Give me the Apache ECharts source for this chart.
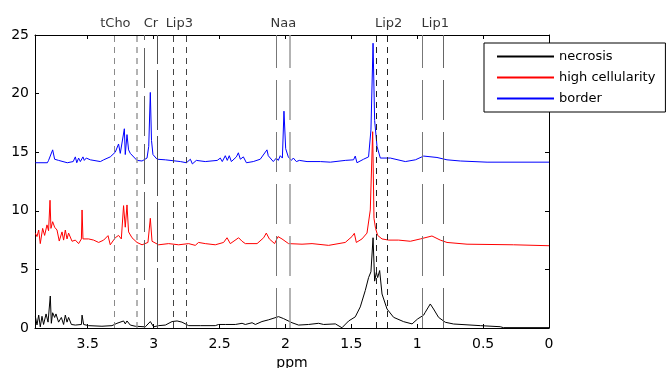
<!DOCTYPE html>
<html><head><meta charset="utf-8">
<script src="https://cdn.jsdelivr.net/npm/echarts/dist/echarts.min.js"></script>
<style>html,body{margin:0;padding:0;background:#fff}#c{width:667px;height:368px}</style>
</head><body><div id="c"></div>
<script>
// ---- data (ppm, intensity) ----
const necrosis = [
[3.897,0.97],[3.885,0.26],[3.872,1.1],[3.860,0.1],[3.847,1.0],[3.835,0.3],[3.816,1.2],[3.801,0.5],[3.784,2.73],[3.776,0.4],[3.766,1.3],[3.751,0.9],[3.741,1.2],[3.721,0.5],[3.700,0.9],[3.683,0.3],[3.670,1.1],[3.657,0.5],[3.645,0.9],[3.624,0.3],[3.594,0.25],[3.548,0.3],[3.543,1.1],[3.531,0.3],[3.493,0.2],[3.392,0.15],[3.316,0.2],[3.278,0.4],[3.228,0.6],[3.215,0.35],[3.202,0.6],[3.177,0.25],[3.139,0.15],[3.063,0.1],[3.025,0.55],[3.000,0.1],[2.962,0.2],[2.911,0.25],[2.860,0.55],[2.822,0.6],[2.785,0.5],[2.734,0.2],[2.646,0.2],[2.532,0.2],[2.507,0.3],[2.456,0.3],[2.380,0.3],[2.329,0.4],[2.304,0.3],[2.253,0.45],[2.228,0.3],[2.178,0.55],[2.127,0.7],[2.052,0.97],[2.014,0.8],[1.950,0.45],[1.900,0.25],[1.824,0.3],[1.748,0.4],[1.710,0.3],[1.621,0.35],[1.571,0.02],[1.520,0.6],[1.470,0.95],[1.432,1.8],[1.394,3.2],[1.369,4.3],[1.351,4.8],[1.335,7.7],[1.323,4.0],[1.310,4.75],[1.300,4.3],[1.285,4.9],[1.267,2.9],[1.229,1.62],[1.179,0.91],[1.103,0.54],[1.039,0.35],[0.997,0.77],[0.951,1.1],[0.939,1.34],[0.901,2.05],[0.876,1.62],[0.838,0.91],[0.787,0.49],[0.724,0.34],[0.521,0.2],[0.370,0.11],[0.346,0.03],[0,0.03]
];
const highCellularity = [
[3.897,8.08],[3.885,7.8],[3.872,8.36],[3.860,7.2],[3.842,8.5],[3.827,7.9],[3.809,8.8],[3.797,8.3],[3.786,10.9],[3.779,8.5],[3.766,9.07],[3.751,8.6],[3.733,8.36],[3.716,7.42],[3.695,8.2],[3.683,7.5],[3.670,8.36],[3.657,7.6],[3.645,8.1],[3.619,7.4],[3.594,7.5],[3.569,7.2],[3.548,7.6],[3.543,10.07],[3.536,7.6],[3.493,7.6],[3.455,7.5],[3.417,7.3],[3.379,7.5],[3.346,7.88],[3.329,7.1],[3.291,7.7],[3.266,7.9],[3.245,7.6],[3.228,10.44],[3.215,8.6],[3.202,10.5],[3.190,8.2],[3.164,7.7],[3.126,7.3],[3.088,7.1],[3.043,7.3],[3.025,9.36],[3.012,7.4],[2.962,7.1],[2.886,7.2],[2.810,7.1],[2.734,7.2],[2.684,7.05],[2.659,7.3],[2.608,7.2],[2.532,7.1],[2.469,7.3],[2.443,7.7],[2.418,7.2],[2.355,7.7],[2.329,7.4],[2.304,7.2],[2.215,7.2],[2.165,7.7],[2.145,8.1],[2.122,7.6],[2.082,7.2],[2.056,7.8],[2.026,7.6],[1.976,7.2],[1.874,7.15],[1.798,7.2],[1.672,7.05],[1.546,7.3],[1.495,7.8],[1.477,8.08],[1.462,7.3],[1.419,7.6],[1.381,8.1],[1.356,10.07],[1.338,16.75],[1.328,9.36],[1.316,8.5],[1.300,7.9],[1.267,7.6],[1.217,7.5],[1.141,7.5],[1.052,7.4],[0.976,7.6],[0.888,7.85],[0.825,7.5],[0.774,7.3],[0.622,7.15],[0.269,7.1],[0.256,7.02],[0,7.02]
];
const border = [
[3.897,14.1],[3.806,14.1],[3.797,14.3],[3.766,15.2],[3.751,14.4],[3.721,14.3],[3.655,14.1],[3.610,14.2],[3.594,14.6],[3.583,14.1],[3.569,14.5],[3.556,14.2],[3.536,14.6],[3.526,14.3],[3.511,14.5],[3.480,14.35],[3.404,14.2],[3.379,14.35],[3.329,14.6],[3.291,15.0],[3.266,15.7],[3.253,14.9],[3.241,14.8],[3.222,17.0],[3.215,14.8],[3.202,16.5],[3.190,15.2],[3.177,14.9],[3.126,14.3],[3.088,14.25],[3.050,14.5],[3.037,15.5],[3.025,20.1],[3.016,16.0],[3.005,14.8],[2.974,14.4],[2.911,14.35],[2.797,14.2],[2.751,14.1],[2.721,14.4],[2.706,14.0],[2.676,14.3],[2.608,14.2],[2.517,14.3],[2.494,14.5],[2.479,14.2],[2.456,14.7],[2.441,14.3],[2.426,14.7],[2.410,14.2],[2.372,14.6],[2.357,14.95],[2.342,14.4],[2.319,14.6],[2.296,14.1],[2.244,14.2],[2.191,14.4],[2.140,15.2],[2.130,14.7],[2.115,14.8],[2.092,14.2],[2.069,14.5],[2.054,14.3],[2.039,14.7],[2.023,14.5],[2.011,18.5],[1.998,15.3],[1.978,14.6],[1.955,14.3],[1.940,14.5],[1.917,14.2],[1.894,14.3],[1.836,14.2],[1.735,14.2],[1.659,14.15],[1.546,14.3],[1.483,14.35],[1.470,14.67],[1.457,14.1],[1.407,14.4],[1.369,14.6],[1.351,16.9],[1.335,24.3],[1.323,17.7],[1.305,15.5],[1.280,14.5],[1.204,14.5],[1.090,14.2],[1.014,14.35],[0.951,14.67],[0.850,14.55],[0.774,14.35],[0.673,14.25],[0.470,14.15],[0,14.15]
];
const markerPpm = [3.298, 3.126, 3.068, 2.970, 2.848, 2.750, 2.067, 1.968, 1.311, 1.225, 0.959, 0.804];
const labelNames = ['tCho', 'Cr', 'Lip3', 'Naa', 'Lip2', 'Lip1'];
const labelPpm = [3.29, 3.02, 2.805, 2.016, 1.217, 0.863];
const seriesNames = ['necrosis', 'high cellularity', 'border'];
const xMin = 0, xMax = 3.9, xStep = 0.5;
const yMin = 0, yMax = 25, yStep = 5;

// ---- styles ----
const markerStyle = [
  {color:'#8a8a8a', type:[6,5]}, {color:'#9a9a9a', type:[6,5], width:1.5}, {color:'#606060', type:[40,8]}, {color:'#505050', type:[60,6]},
  {color:'#444', type:[6,5]}, {color:'#444', type:[6,5]},
  {color:'#777', type:[40,12]}, {color:'#9a9a9a', type:[40,12], width:1.5},
  {color:'#222', type:[6,5]}, {color:'#222', type:[6,5]},
  {color:'#777', type:[40,12]}, {color:'#666', type:[40,12]}
];
const FONT = 'DejaVu Sans';
const chart = echarts.init(document.getElementById('c'), null, {renderer:'canvas'});
const lineSeries = (name, data, color) => ({
  name, type:'line', data, symbol:'none', showSymbol:false, smooth:false,
  lineStyle:{color, width:1}, itemStyle:{color}, animation:false, z:3
});
chart.setOption({
  animation:false,
  backgroundColor:'#fff',
  grid:{left:35, right:118, top:35, bottom:40, containLabel:false, outerBoundsMode:'none'},
  legend:{
    orient:'vertical', left:484, top:43, itemWidth:57, itemHeight:14, itemGap:8,
    padding:[7,10,7,12], borderColor:'#000', borderWidth:1, borderRadius:0, backgroundColor:'#fff',
    itemStyle:{opacity:0, borderWidth:0},
    textStyle:{fontFamily:FONT, fontSize:13, color:'#000'}, data:seriesNames, selectedMode:false
  },
  xAxis:[{
    type:'value', min:xMin, max:xMax, interval:xStep, inverse:true,
    name:'ppm', nameLocation:'middle', nameGap:26,
    nameTextStyle:{fontFamily:FONT, fontSize:14, color:'#000'},
    axisLine:{show:true, onZero:false, lineStyle:{color:'#000', width:1}},
    axisTick:{show:true, inside:true, length:4, lineStyle:{color:'#000'}},
    axisLabel:{fontFamily:FONT, fontSize:14, color:'#000', margin:9, showMaxLabel:false},
    splitLine:{show:false}
  },{
    type:'value', min:xMin, max:xMax, interval:xStep, inverse:true, position:'top',
    axisLine:{show:true, onZero:false, lineStyle:{color:'#000', width:1}},
    axisTick:{show:true, inside:true, length:4, lineStyle:{color:'#000'}},
    axisLabel:{show:false}, splitLine:{show:false}
  }],
  yAxis:[{
    type:'value', min:yMin, max:yMax, interval:yStep,
    axisLine:{show:true, onZero:false, lineStyle:{color:'#000', width:1}},
    axisTick:{show:true, inside:true, length:4, lineStyle:{color:'#000'}},
    axisLabel:{fontFamily:FONT, fontSize:14, color:'#000', margin:6},
    splitLine:{show:false}
  },{
    type:'value', min:yMin, max:yMax, interval:yStep, position:'right',
    axisLine:{show:true, onZero:false, lineStyle:{color:'#000', width:1}},
    axisTick:{show:true, inside:true, length:4, lineStyle:{color:'#000'}},
    axisLabel:{show:false}, splitLine:{show:false}
  }],
  series:[
    {
      name:'markers', type:'line', data:[], silent:true, animation:false,
      markLine:{
        symbol:'none', silent:true, animation:false, label:{show:false},
        data: markerPpm.map((p,i)=>({xAxis:p, lineStyle:Object.assign({width:1}, markerStyle[i])}))
      }
    },
    lineSeries(seriesNames[0], necrosis, '#000000'),
    lineSeries(seriesNames[1], highCellularity, '#ff0000'),
    lineSeries(seriesNames[2], border, '#0000ff'),
    {
      name:'labels', type:'scatter', clip:false, silent:true, symbolSize:1,
      itemStyle:{color:'rgba(0,0,0,0)'},
      data: labelPpm.map((p,i)=>({value:[p, yMax], name:labelNames[i]})),
      label:{show:true, position:'top', distance:4, formatter:'{b}', fontFamily:FONT, fontSize:13, color:'#000'}
    }
  ]
});
</script>
</body></html>
